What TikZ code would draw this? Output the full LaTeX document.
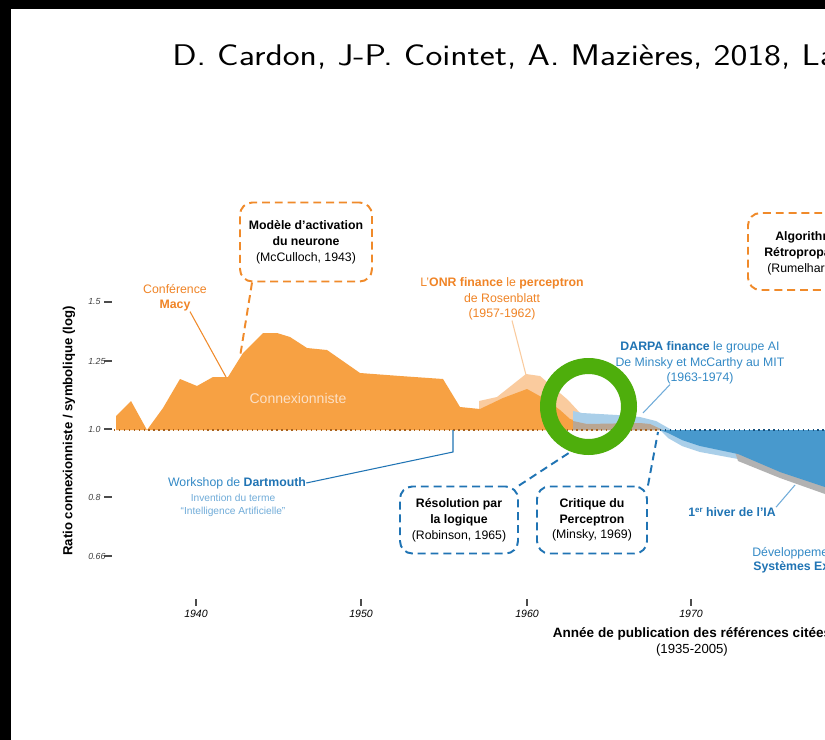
\documentclass[tikz,border=0pt]{standalone}
\usepackage{fontspec}
\usepackage{tikz}
\newfontfamily\chartfont{Liberation Sans}

\definecolor{orgfill}{RGB}{247,161,67}
\definecolor{orgpale}{RGB}{250,203,158}
\definecolor{orgline}{RGB}{240,138,42}
\definecolor{orgtext}{RGB}{240,132,38}
\definecolor{bluefill}{RGB}{72,153,205}
\definecolor{bluepale}{RGB}{170,207,233}
\definecolor{blueline}{RGB}{32,116,180}
\definecolor{bluetext}{RGB}{52,138,198}
\definecolor{bluelight}{RGB}{112,172,217}
\definecolor{mixfill}{RGB}{186,166,146}
\definecolor{greyband}{RGB}{178,178,178}
\definecolor{ringgreen}{RGB}{78,174,12}

\tikzset{
  txt/.style={font=\chartfont\fontsize{7}{9}\selectfont, inner sep=0pt, align=center},
  dashline/.style={line width=1.1pt, dash pattern=on 4.5pt off 2.8pt},
  obox/.style={txt, draw=orgline, dashline, rounded corners=7pt},
  bbox/.style={txt, draw=blueline, dashline, rounded corners=7pt},
  lead/.style={line width=0.6pt}
}

\begin{document}
\begin{tikzpicture}[x=0.02cm, y=-0.02cm]
        \useasboundingbox (0,0) rectangle (825,740);
        \clip (0,0) rectangle (825,740);
        \fill[white] (0,0) rectangle (825,740);
        \fill[black] (0,0) rectangle (825,9);
        \fill[black] (0,0) rectangle (11,740);

        \node[anchor=base west, inner sep=0pt, font=\sffamily\fontsize{17}{20}\selectfont] (title) at (172,66) {\scalebox{1.2}[1]{D. Cardon, J-P. Cointet, A. Mazières, 2018, La}};

        % areas
        \fill[orgpale] (479,430) -- (479,401) -- (497,397) -- (526,374) -- (540,376) -- (568,400) -- (580,413) -- (580,430) -- cycle;
        \fill[orgfill] (116,430) -- (116,416) -- (131,401) -- (147,430) -- (163,408) -- (180,379) -- (197,386) -- (213,377) -- (228,377) -- (243,353) -- (263,333) -- (277,333) -- (290,337) -- (307,348) -- (327,350) -- (360,373) -- (400,376) -- (443,379) -- (460,407) -- (480,409) -- (503,398) -- (527,389) -- (545,399) -- (560,410) -- (570,419) -- (587,424) -- (640,423) -- (650,424) -- (663,430) -- cycle;
        \fill[bluepale] (573,411) -- (582,413) -- (617,415) -- (640,417) -- (656,421) -- (670,429) -- (685,437) -- (700,442) -- (738,452) -- (738,459) -- (700,452) -- (682,446) -- (668,438) -- (660,430) -- (573,430) -- cycle;
        \fill[mixfill] (573,421) -- (587,424) -- (640,423) -- (650,424) -- (663,430) -- (573,430) -- cycle;
        \fill[greyband] (735,452) -- (825,485) -- (825,494) -- (780,478) -- (738,461) -- cycle;
        \fill[bluefill] (660,430) -- (825,430) -- (825,487) -- (780,472) -- (738,454) -- (700,446) -- (682,440) -- (668,433) -- cycle;
        \node[txt, font=\chartfont\fontsize{8}{9}\selectfont, text=orgpale!60!white] (conn) at (298,398) {Connexionniste};

        \draw[dotted, line width=0.8pt, orgline!70!black] (114,430) -- (660,430);
        \draw[dotted, line width=0.8pt, blueline!70!black] (660,430) -- (825,430);

        % axes
        \node[txt, font=\chartfont\bfseries\fontsize{7.5}{9}\selectfont, rotate=90] (ylab) at (69,431) {Ratio connexionniste / symbolique (log)};
        \foreach \v/\y in {1.5/302,1.25/361,1.0/429,0.8/497,0.66/556}{
          \draw[black!70, line width=0.6pt] (104,\y) -- (112,\y);
          \node[txt, anchor=west, font=\chartfont\itshape\fontsize{5}{6}\selectfont, text=black!75] at (88,\y) {\v};
        }
        \foreach \yr/\x in {1940/196,1950/361,1960/527,1970/691}{
          \draw[black!70, line width=0.7pt] (\x,599) -- (\x,606);
          \node[txt, font=\chartfont\itshape\fontsize{6}{7}\selectfont] (yr\yr) at (\x,614) {\yr};
        }
        \node[txt, font=\chartfont\bfseries\fontsize{7.7}{9}\selectfont] (xlab) at (692,634) {Année de publication des références citées};
        \node[txt, font=\chartfont\fontsize{7.5}{9}\selectfont] (xrange) at (692,650) {(1935-2005)};

        % orange notes
        \node[obox, minimum width=2.64cm, minimum height=1.58cm] (mcc) at (306,242) {\textbf{Modèle d’activation}\\\textbf{du neurone}\\(McCulloch, 1943)};
        \coordinate (mccend) at (240,357);
        \draw[orgline, dashline] ([xshift=0.26cm]mcc.south west) -- (mccend);

        \node[txt, text=orgtext, font=\chartfont\fontsize{7}{8.5}\selectfont] (macy) at (175,298) {Conférence\\\textbf{Macy}};
        \coordinate (macyend) at (226,377);
        \draw[orgline, lead] ([xshift=0.3cm]macy.south) -- (macyend);

        \node[txt, text=orgtext, font=\chartfont\fontsize{7}{8.8}\selectfont] (onr) at (502,299) {L’\textbf{ONR finance} le \textbf{perceptron}\\de Rosenblatt\\(1957-1962)};
        \coordinate (onrend) at (526,375);
        \draw[orgpale, lead] ([xshift=0.2cm]onr.south) -- (onrend);

        \draw[orgline, dashline, rounded corners=7pt] (835,213) -- (748,213) -- (748,290) -- (835,290);
        \node[txt, anchor=west] (algo) at (775,237) {\textbf{Algorithm}};
        \node[txt, anchor=west] (retro) at (764,253) {\textbf{Rétropropa}};
        \node[txt, anchor=west] (rum) at (767,269) {(Rumelhart};

        % blue notes
        \node[txt, text=bluetext, font=\chartfont\fontsize{7}{8.8}\selectfont] (darpa) at (700,363) {\textcolor{blueline}{\textbf{DARPA finance}} le groupe AI\\De Minsky et McCarthy au MIT\\(1963-1974)};
        \coordinate (darpaend) at (643,413);
        \draw[bluelight, lead] ([xshift=-0.6cm]darpa.south) -- (darpaend);

        \node[txt, text=bluetext] (dart) at (237,483) {Workshop de \textcolor{blueline}{\textbf{Dartmouth}}};
        \node[txt, text=bluelight, font=\chartfont\fontsize{5.8}{7.4}\selectfont] (dartsub) at (233,505) {Invention du terme\\“Intelligence Artificielle”};
        \coordinate (dartbend) at (453,452);
        \coordinate (dartend) at (453,430);
        \draw[blueline, lead] (dart.east) -- (dartbend) -- (dartend);

        \node[bbox, minimum width=2.36cm, minimum height=1.34cm] (rob) at (459,520) {\textbf{Résolution par}\\\textbf{la logique}\\(Robinson, 1965)};
        \coordinate (robend) at (578,447);
        \draw[blueline, dashline] (rob.north east) -- (robend);

        \node[bbox, minimum width=2.2cm, minimum height=1.34cm] (mins) at (592,520) {\textbf{Critique du}\\\textbf{Perceptron}\\(Minsky, 1969)};
        \coordinate (minsend) at (658,432);
        \draw[blueline, dashline] (mins.north east) -- (minsend);

        \node[txt, text=blueline] (hiver) at (732,512) {\textbf{1\raisebox{0.35em}{\fontsize{4.5}{5}\selectfont er} hiver de l’IA}};
        \coordinate (hiverend) at (795,485);
        \draw[bluelight, lead] (hiver.north east) -- (hiverend);

        \node[txt, anchor=west, text=bluetext] (dev) at (752,553) {Développeme};
        \node[txt, anchor=west, text=blueline] (sysexp) at (753,567) {\textbf{Systèmes Ex}};

        \draw[ringgreen, line width=0.32cm] (588.5,406.5) circle (0.81cm);
      \end{tikzpicture}
\end{document}
